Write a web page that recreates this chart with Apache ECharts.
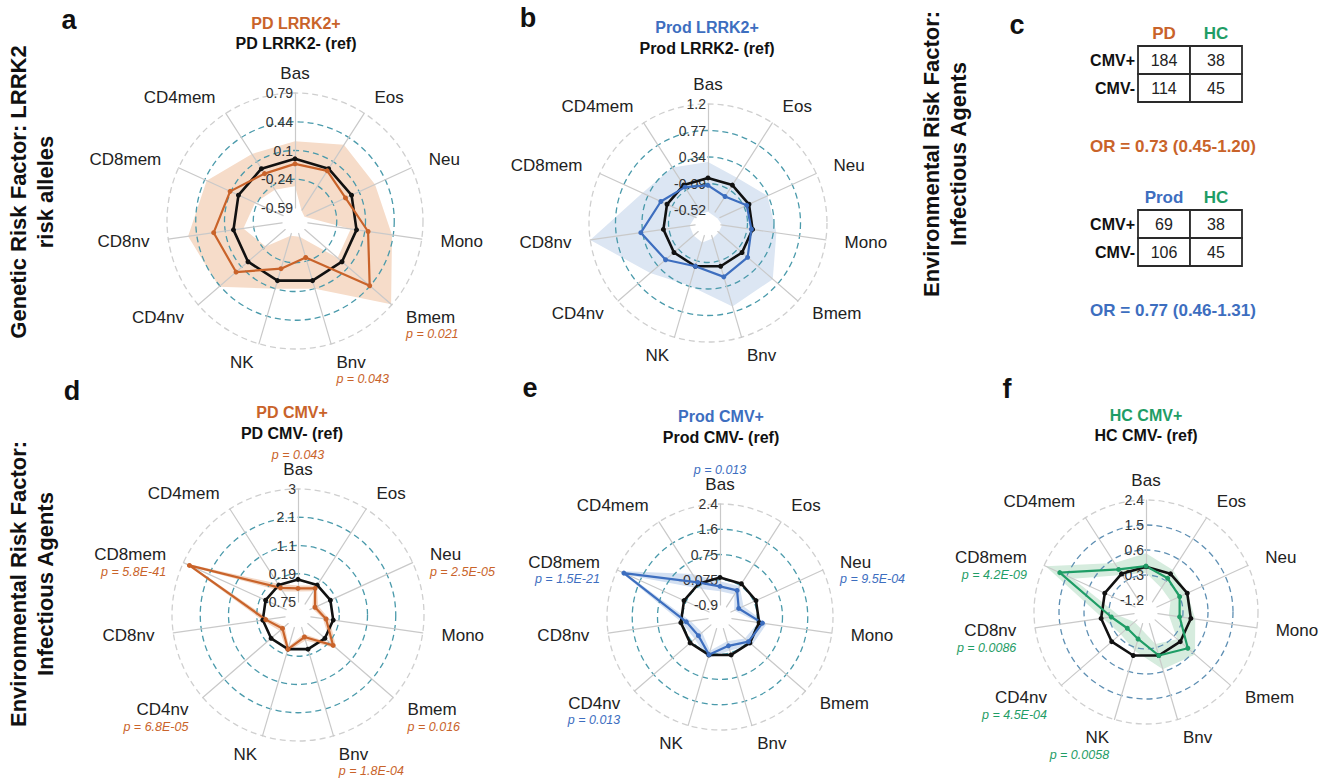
<!DOCTYPE html>
<html><head><meta charset="utf-8">
<script src="https://cdn.jsdelivr.net/npm/echarts@6/dist/echarts.min.js"></script>
<style>html,body{margin:0;padding:0;background:#fff}#c{width:1323px;height:781px}</style>
</head><body><div id="c"></div>
<script>
// ---------- DATA ----------
const categories = ['Bas','Eos','Neu','Mono','Bmem','Bnv','NK','CD4nv','CD8nv','CD8mem','CD4mem'];

// panel a : PD LRRK2+ vs PD LRRK2- (ref)
const aTicks = ['-0.59','-0.24','0.1','0.44','0.79'];
const aRef   = [0,0,0,0,0,0,0,0,0,0,0];
const aVal   = [-0.06,-0.03,-0.08,0.14,0.44,-0.29,-0.15,0.19,0.24,0.11,-0.07];
const aUpper = [0.21,0.34,0.31,0.43,0.78,0.10,0.10,0.46,0.55,0.42,0.21];
const aLower = [-0.33,-0.60,-0.62,-0.07,-0.07,-0.55,-0.56,-0.28,-0.12,-0.22,-0.30];
const aP     = ['','','','','p = 0.021','p = 0.043','','','','',''];

// panel b : Prod LRRK2+ vs Prod LRRK2- (ref)
const bTicks = ['-0.52','-0.09','0.34','0.77','1.2'];
const bRef   = [0,0,0,0,0,0,0,0,0,0,0];
const bVal   = [-0.12,-0.22,-0.04,-0.02,0.12,0.18,0.0,0.18,0.37,0.11,-0.04];
const bUpper = [0.26,0.14,0.33,0.39,0.66,0.68,0.33,0.51,1.2,0.44,0.34];
const bLower = [-0.55,-0.58,-0.56,-0.50,-0.50,-0.47,-0.40,-0.42,-0.43,-0.50,-0.55];
const bP     = ['','','','','','','','','','',''];

// panel d : PD CMV+ vs PD CMV- (ref)
const dTicks = ['-0.75','0.19','1.1','2.1','3'];
const dRef   = [0,0,0,0,0,0,0,0,0,0,0];
const dVal   = [-0.30,-0.13,-0.56,-0.24,0.36,-0.42,0.0,-0.50,-0.10,2.78,-0.11];
const dUpper = [-0.20,-0.02,-0.45,-0.12,0.50,-0.30,0.10,-0.38,0.02,2.95,0.05];
const dLower = [-0.40,-0.24,-0.66,-0.35,0.24,-0.52,-0.10,-0.60,-0.22,2.60,-0.25];
const dP     = ['p = 0.043','','p = 2.5E-05','','p = 0.016','p = 1.8E-04','','p = 6.8E-05','','p = 5.8E-41',''];

// panel e : Prod CMV+ vs Prod CMV- (ref)
const eTicks = ['-0.9','-0.075','0.75','1.6','2.4'];
const eRef   = [0,0,0,0,0,0,0,0,0,0,0];
const eVal   = [-0.29,-0.26,-0.62,0.11,-0.06,-0.31,-0.01,-0.36,-0.18,2.16,0.05];
const eUpper = [-0.12,-0.10,-0.45,0.25,0.10,-0.15,0.12,-0.20,-0.03,2.32,0.38];
const eLower = [-0.45,-0.42,-0.78,-0.03,-0.22,-0.47,-0.14,-0.52,-0.33,2.00,-0.20];
const eP     = ['p = 0.013','','p = 9.5E-04','','','','','p = 0.013','','p = 1.5E-21',''];

// panel f : HC CMV+ vs HC CMV- (ref)
const fTicks = ['-1.2','-0.3','0.6','1.5','2.4'];
const fRef   = [0,0,0,0,0,0,0,0,0,0,0];
const fVal   = [0.02,-0.19,-0.30,-0.41,0.36,0.0,-0.62,-0.74,-0.37,1.78,0.19];
const fUpper = [0.48,0.16,0.00,0.16,0.70,0.52,-0.18,-0.42,-0.06,2.34,0.47];
const fLower = [-0.22,-0.61,-0.66,-0.80,-0.14,-0.43,-1.00,-1.08,-0.66,1.26,-0.05];
const fP     = ['','','','','','','p = 0.0058','p = 4.5E-04','p = 0.0086','p = 4.2E-09',''];

// panel c : contingency tables
const tableRows = ['CMV+','CMV-'];
const table1Cols = ['PD','HC'];
const table1Counts = [[184,38],[114,45]];
const table2Cols = ['Prod','HC'];
const table2Counts = [[69,38],[106,45]];
const or1Text = 'OR = 0.73 (0.45-1.20)';
const or2Text = 'OR = 0.77 (0.46-1.31)';

// ---------- STYLE ----------
const FONT = "'Liberation Sans', Arial, Helvetica, sans-serif";
const ORANGE = '#C9632A', BLUE = '#3D6EBF', GREEN = '#1F9D66';
const groupColor = {PD: ORANGE, Prod: BLUE, HC: GREEN};

const panels = [
  {center:[295,221], radius:[13,128], min:-0.59, max:0.79, ticks:aTicks, ref:aRef, val:aVal, up:aUpper, lo:aLower, p:aP, color:ORANGE, shade:'#F6DCC9', ring:'#4A9AAB'},
  {center:[708,223], radius:[13,119], min:-0.52, max:1.2,  ticks:bTicks, ref:bRef, val:bVal, up:bUpper, lo:bLower, p:bP, color:BLUE,   shade:'#DCE6F3', ring:'#4A9AAB'},
  {center:[298,615], radius:[13,126], min:-0.75, max:3.0,  ticks:dTicks, ref:dRef, val:dVal, up:dUpper, lo:dLower, p:dP, color:ORANGE, shade:'#F3D6C3', ring:'#4A9AAB'},
  {center:[720,617], radius:[12,113], min:-0.9,  max:2.4,  ticks:eTicks, ref:eRef, val:eVal, up:eUpper, lo:eLower, p:eP, color:BLUE,   shade:'#D3E0F2', ring:'#4A9AAB'},
  {center:[1146,612],radius:[12,112], min:-1.2,  max:2.4,  ticks:fTicks, ref:fRef, val:fVal, up:fUpper, lo:fLower, p:fP, color:GREEN,  shade:'#D6ECDE', ring:'#5E8FB3'}
];

// radar places indicators counter-clockwise; reorder so they read clockwise from the top
function ord(arr){ return [arr[0]].concat(arr.slice(1).reverse()); }

function nameFmt(p){
  return function(name){
    const i = categories.indexOf(name);
    const pv = p.p[i];
    if (i === 0) return pv ? '{p0|' + pv + '}\n{n0|' + name + '}' : '{n0|' + name + '}';
    if (!pv) return '{n|' + name + '}';
    return '{s| }\n{n|' + name + '}\n{p|' + pv + '}';
  };
}

const radars = panels.map(p => ({
  center: p.center, radius: p.radius, startAngle: 90, shape: 'circle', splitNumber: 4, z: 2,
  indicator: ord(categories).map((c, i) => i === 0
      ? {name: c, min: p.min, max: p.max, axisLabel: {show: true}}
      : {name: c, min: p.min, max: p.max}),
  nameGap: 19,
  axisName: {
    formatter: nameFmt(p), color: '#222', fontSize: 17, fontFamily: FONT,
    rich: {
      n:  {fontSize: 17, color: '#222', fontFamily: FONT, lineHeight: 19},
      n0: {fontSize: 17, color: '#222', fontFamily: FONT, lineHeight: 2},
      p:  {fontSize: 12.5, fontStyle: 'italic', color: p.color, fontFamily: FONT, lineHeight: 15},
      p0: {fontSize: 12.5, fontStyle: 'italic', color: p.color, fontFamily: FONT, lineHeight: 27},
      s:  {fontSize: 12.5, lineHeight: 15}
    }
  },
  axisLine: {lineStyle: {color: '#c9c9c9', width: 1.2}},
  axisTick: {show: false},
  splitArea: {show: false},
  splitLine: {lineStyle: {color: ['rgba(0,0,0,0)', p.ring, p.ring, p.ring, '#cfcfcf'], type: [6, 4], width: 1.3}},
  axisLabel: {
    show: false, margin: 2, color: '#333', fontSize: 14, fontFamily: FONT,
    showMinLabel: true, showMaxLabel: true,
    formatter: v => p.ticks[Math.round((v - p.min) / (p.max - p.min) * 4)]
  }
}));

const series = [];
panels.forEach((p, k) => {
  series.push({type: 'radar', radarIndex: k, z: 1, silent: true, symbol: 'none',
    lineStyle: {width: 0, opacity: 0}, areaStyle: {color: p.shade, opacity: 1},
    emphasis: {disabled: true}, data: [{value: ord(p.up)}]});
  series.push({type: 'radar', radarIndex: k, z: 1.1, silent: true, symbol: 'none',
    lineStyle: {width: 0, opacity: 0}, areaStyle: {color: '#ffffff', opacity: 1},
    emphasis: {disabled: true}, data: [{value: ord(p.lo)}]});
  series.push({type: 'radar', radarIndex: k, z: 3, symbol: 'circle', symbolSize: 5,
    emphasis: {disabled: true},
    data: [
      {value: ord(p.ref), lineStyle: {color: '#111', width: 2.6}, itemStyle: {color: '#111'}},
      {value: ord(p.val), lineStyle: {color: p.color, width: 2.2}, itemStyle: {color: p.color}}
    ]});
});

// tables
function cells(cols, counts){
  const out = [];
  counts.forEach((row, r) => row.forEach((v, c) => out.push([cols[c], tableRows[r], v])));
  return out;
}
function cellRender(params, api){
  const c = api.coord([api.value(0), api.value(1)]);
  const s = api.size([1, 1]);
  return {
    type: 'rect',
    shape: {x: c[0] - s[0] / 2, y: c[1] - s[1] / 2, width: s[0], height: s[1]},
    style: {fill: '#fff', stroke: '#2a2a2a', lineWidth: 1.8},
    textContent: {style: {text: String(api.value(2)), font: '16px ' + FONT, fill: '#222'}},
    textConfig: {position: 'inside'}
  };
}
const grids = [
  {left: 1138, top: 46, width: 104, height: 56},
  {left: 1138, top: 210, width: 104, height: 56}
];
const xAxes = [table1Cols, table2Cols].map((cols, g) => ({
  gridIndex: g, type: 'category', data: cols, position: 'top',
  axisLine: {show: false}, axisTick: {show: false}, splitLine: {show: false},
  axisLabel: {margin: 4, fontWeight: 'bold', fontSize: 17, fontFamily: FONT, color: v => groupColor[v]}
}));
const yAxes = [0, 1].map(g => ({
  gridIndex: g, type: 'category', data: tableRows, inverse: true,
  axisLine: {show: false}, axisTick: {show: false}, splitLine: {show: false},
  axisLabel: {margin: 3, fontWeight: 'bold', fontSize: 16, fontFamily: FONT, color: '#111'}
}));
series.push({type: 'custom', xAxisIndex: 0, yAxisIndex: 0, silent: true, renderItem: cellRender, data: cells(table1Cols, table1Counts)});
series.push({type: 'custom', xAxisIndex: 1, yAxisIndex: 1, silent: true, renderItem: cellRender, data: cells(table2Cols, table2Counts)});

// text
function txt(text, x, y, size, color, opts){
  opts = opts || {};
  return {
    type: 'text', x: x, y: y, rotation: opts.rot || 0, silent: true, z: 10,
    style: {
      text: text, x: 0, y: 0,
      font: (opts.italic ? 'italic ' : '') + (opts.bold === false ? '' : 'bold ') + size + 'px ' + FONT,
      fill: color, align: 'center', verticalAlign: 'middle', textAlign: 'center', textVerticalAlign: 'middle'
    }
  };
}
const R90 = Math.PI / 2;
const graphics = [
  txt('a', 69, 20, 27, '#111'),
  txt('b', 528, 18, 27, '#111'),
  txt('c', 1017, 25, 27, '#111'),
  txt('d', 72, 391, 27, '#111'),
  txt('e', 530, 388, 27, '#111'),
  txt('f', 1007, 389, 27, '#111'),
  txt('Genetic Risk Factor: LRRK2', 18, 192, 22, '#111', {rot: R90}),
  txt('risk alleles', 45, 192, 22, '#111', {rot: R90}),
  txt('Environmental Risk Factor:', 931, 154, 22, '#111', {rot: R90}),
  txt('Infectious Agents', 958, 154, 22, '#111', {rot: R90}),
  txt('Environmental Risk Factor:', 18, 584, 22, '#111', {rot: R90}),
  txt('Infectious Agents', 45, 584, 22, '#111', {rot: R90}),
  txt('PD LRRK2+', 296, 23, 16, ORANGE),
  txt('PD LRRK2- (ref)', 296, 43, 16, '#111'),
  txt('Prod LRRK2+', 707, 27, 16, BLUE),
  txt('Prod LRRK2- (ref)', 707, 48, 16, '#111'),
  txt('PD CMV+', 292, 412, 16, ORANGE),
  txt('PD CMV- (ref)', 292, 433, 16, '#111'),
  txt('Prod CMV+', 721, 416, 16, BLUE),
  txt('Prod CMV- (ref)', 721, 437, 16, '#111'),
  txt('HC CMV+', 1146, 415, 16, GREEN),
  txt('HC CMV- (ref)', 1146, 435, 16, '#111'),
  txt(or1Text, 1173, 146, 17, ORANGE),
  txt(or2Text, 1173, 310, 17, BLUE)
];

const chart = echarts.init(document.getElementById('c'), null, {renderer: 'svg', width: 1323, height: 781});
chart.setOption({
  backgroundColor: '#fff',
  animation: false,
  textStyle: {fontFamily: FONT},
  radar: radars,
  grid: grids,
  xAxis: xAxes,
  yAxis: yAxes,
  graphic: graphics,
  series: series
});
</script>
</body></html>
